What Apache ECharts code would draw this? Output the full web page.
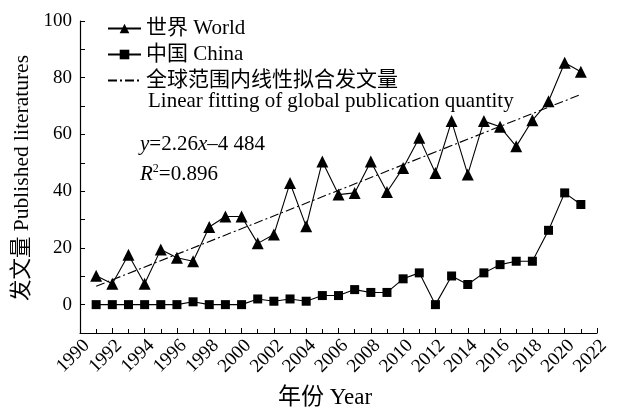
<!DOCTYPE html>
<html>
<head>
<meta charset="utf-8">
<script src="https://cdn.jsdelivr.net/npm/echarts@6/dist/echarts.min.js"></script>
<style>html,body{margin:0;padding:0;background:#fff}#c{width:618px;height:410px}</style>
</head>
<body>
<div id="c"></div>
<script>
var years = [1991,1992,1993,1994,1995,1996,1997,1998,1999,2000,2001,2002,2003,2004,2005,2006,2007,2008,2009,2010,2011,2012,2013,2014,2015,2016,2017,2018,2019,2020,2021];
var worldValues = [10.2,7.4,17.6,7.4,19.4,16.5,15.3,27.4,31.1,31.1,21.6,24.7,42.9,27.6,50.5,38.8,39.4,50.5,39.7,48.2,58.8,46.4,64.7,45.9,64.7,62.7,55.8,65,71.7,85.3,82.1];
var chinaValues = [0,0,0,0,0,0,1,0,0,0,2,1.2,2,1.2,3.2,3.2,5.3,4.3,4.3,9.1,11.2,0,10.1,7.1,11.2,14.1,15.3,15.3,26.2,39.4,35.3];
var fitYears = [1991, 2021];
var fitValues = [6.5, 74.1];
var yTickLabels = [0,20,40,60,80,100];
var seriesNames = ['世界 World', '中国 China', '全球范围内线性拟合发文量'];
var fitNameLine2 = 'Linear fitting of global publication quantity';
var equationText = '{i|y}=2.26{i|x}\u20134 484';
var r2Text = '{i|R}{sup|2}=0.896';
var xAxisName = '年份 Year';
var yAxisName = '发文量 Published literatures';

var FONT = '"Liberation Serif", "Noto Sans CJK SC", serif';
function pairs(xs, ys){ return xs.map(function(x,i){ return [x, ys[i]]; }); }

var chart = echarts.init(document.getElementById('c'));
chart.setOption({
  animation: false,
  backgroundColor: '#fff',
  textStyle: { fontFamily: FONT, color: '#000' },
  grid: { left: 80, right: 21, top: 21, bottom: 77 },
  legend: {
    orient: 'vertical',
    left: 107, top: 18, padding: 0,
    itemWidth: 33, itemHeight: 12, itemGap: 5,
    textStyle: { fontFamily: FONT, fontSize: 21, color: '#000', lineHeight: 21 },
    data: [seriesNames[0], seriesNames[1], { name: seriesNames[2], itemStyle: { opacity: 0 } }]
  },
  xAxis: {
    type: 'value', min: 1990, max: 2022, interval: 2,
    axisLine: { onZero: false, lineStyle: { color: '#000', width: 1.2 } },
    axisTick: { inside: true, length: 5, lineStyle: { color: '#000' } },
    minorTick: { show: true, splitNumber: 2, length: 4, lineStyle: { color: '#000' } },
    splitLine: { show: false },
    axisLabel: { rotate: 45, fontSize: 19, color: '#000', fontFamily: FONT, margin: 3,
      verticalAlign: 'top',
      formatter: function(v){ return String(v); } }
  },
  yAxis: {
    type: 'value', min: -10, max: 100, interval: 10,
    axisLine: { show: true, lineStyle: { color: '#000', width: 1.2 } },
    axisTick: { show: true, inside: true, length: 5, lineStyle: { color: '#000' } },
    splitLine: { show: false },
    axisLabel: {
      fontSize: 19, color: '#000', fontFamily: FONT, margin: 8,
      formatter: function(v){ return yTickLabels.indexOf(v) >= 0 ? String(v) : ''; }
    }
  },
  graphic: [
    { type: 'text', left: 148, top: 91, style: { text: fitNameLine2, font: '21px ' + FONT, fill: '#000' } },
    { type: 'text', left: 140, top: 134, style: {
        text: equationText, font: '21px ' + FONT, fill: '#000',
        rich: { i: { fontStyle: 'italic', fontSize: 21, fontFamily: FONT } } } },
    { type: 'text', left: 140, top: 163, style: {
        text: r2Text, font: '21px ' + FONT, fill: '#000',
        rich: { i: { fontStyle: 'italic', fontSize: 21, fontFamily: FONT },
                sup: { fontSize: 12, fontFamily: FONT, verticalAlign: 'top', padding: [0,0,10,0] } } } },
    { type: 'text', x: 325, y: 398, style: { text: xAxisName, font: '23px ' + FONT, fill: '#000', align: 'center', verticalAlign: 'middle' } },
    { type: 'text', x: 22, y: 178, rotation: Math.PI/2, style: { text: yAxisName, font: '21.5px ' + FONT, fill: '#000', align: 'center', verticalAlign: 'middle' } }
  ],
  series: [
    { name: seriesNames[0], type: 'line', data: pairs(years, worldValues),
      symbol: 'triangle', symbolSize: 12, itemStyle: { color: '#000' },
      lineStyle: { color: '#000', width: 1.1 } },
    { name: seriesNames[1], type: 'line', data: pairs(years, chinaValues),
      symbol: 'rect', symbolSize: 9, itemStyle: { color: '#000' },
      lineStyle: { color: '#000', width: 1.1 } },
    { name: seriesNames[2], type: 'line', data: pairs(fitYears, fitValues),
      symbol: 'none', itemStyle: { color: '#000' },
      lineStyle: { color: '#000', width: 1.1, type: [9, 3, 2, 3] } }
  ]
});
</script>
</body>
</html>
